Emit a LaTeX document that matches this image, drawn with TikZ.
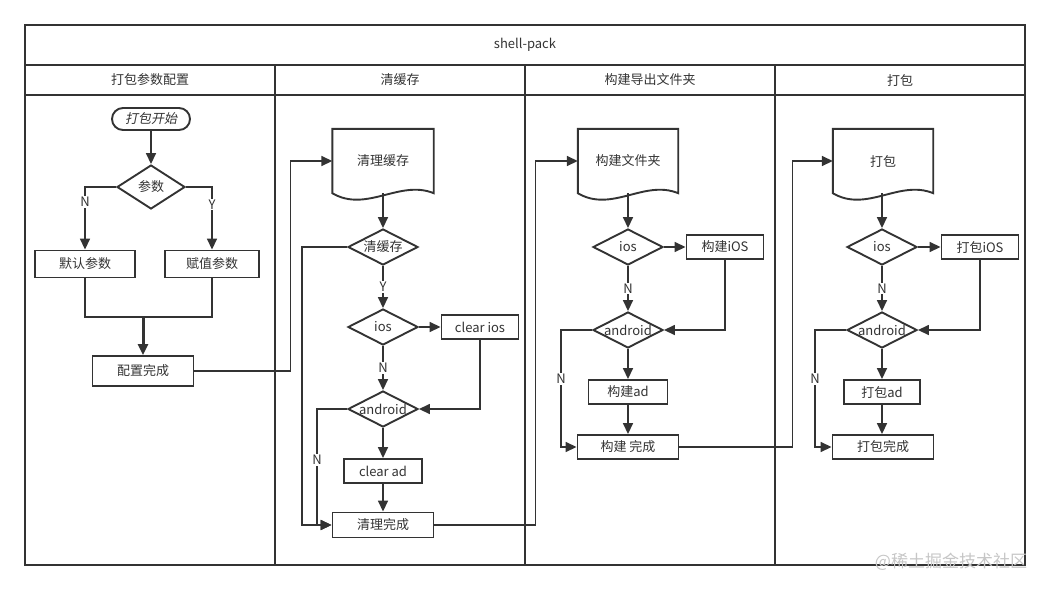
\documentclass[tikz,border=0pt]{standalone}
\usepackage{fontspec}
\setmainfont{Noto Sans CJK SC}
\newfontfamily\cjkslant[FakeSlant=0.2]{Noto Sans CJK SC}
\usetikzlibrary{shapes.geometric}
\usetikzlibrary{shapes.misc}
\usetikzlibrary{arrows.meta}
\usetikzlibrary{positioning}

\definecolor{ink}{HTML}{333333}

\tikzset{
	lane/.style={draw=ink, line width=1.7pt},
	proc/.style={draw=ink, line width=1.9pt, fill=white, minimum height=24pt, inner sep=2pt},
	dec/.style={diamond, draw=ink, line width=1.9pt, fill=white, aspect=2, inner sep=0pt, minimum width=70pt, minimum height=36pt},
	term/.style={rounded rectangle, draw=ink, line width=1.9pt, minimum width=82pt, minimum height=22pt, inner sep=2pt},
	docu/.style={minimum width=101pt, minimum height=64pt, inner sep=0pt},
	flow/.style={draw=ink, line width=1.6pt, -{Triangle[length=11pt,width=10pt]}},
	tag/.style={fill=white, inner sep=1pt, text=ink},
}

% document shape with wavy bottom
\newcommand\drawdoc[1]{%
	\draw[ink, line width=1.9pt] (#1.south west) -- (#1.north west) -- (#1.north east) -- (#1.south east)
		.. controls +(-34,-14) and +(34,20) .. (#1.south west) -- cycle;}

\begin{document}
\begin{tikzpicture}[x=1pt, y=-1pt, font=\fontsize{13}{15}\selectfont, text=ink]
	\useasboundingbox (0,0) rectangle (1050,590);

	% swimlanes
	\draw[lane] (25,25) rectangle (1025,565);
	\draw[lane] (25,65) -- (1025,65);
	\draw[lane] (25,95) -- (1025,95);
	\foreach \x in {275,525,775}
		\draw[lane] (\x,65) -- (\x,565);

	\node (title) at (525,45) {shell-pack};
	\node (hcfg) at (150,80) {打包参数配置};
	\node (hclr) at (400,80) {清缓存};
	\node (hbld) at (650,80) {构建导出文件夹};
	\node (hpck) at (900,80) {打包};

	% lane 1
	\node[term] (start) at (151,119) {\cjkslant 打包开始};
	\node[dec, minimum width=68pt, minimum height=44pt] (par) at (151,187) {参数};
	\node[proc, minimum width=100pt, minimum height=27pt] (dflt) at (85,264) {默认参数};
	\node[proc, minimum width=94pt, minimum height=27pt] (asgn) at (212,264) {赋值参数};
	\coordinate (mrg) at (143,317);
	\node[proc, minimum width=101pt, minimum height=30pt] (cfgok) at (143,371) {配置完成};

	\draw[flow] (start) -- (par);
	\draw[flow] (par.west) -| node[tag, pos=0.62] {N} (dflt);
	\draw[flow] (par.east) -| node[tag, pos=0.64] {Y} (asgn);
	\draw[ink, line width=1.6pt] (dflt.south) |- (mrg) -| (asgn.south);
	\draw[flow, line width=3pt] (mrg) -- (cfgok);

	% lane 2
	\node[docu] (doc1) at (383,161) {清理缓存};
	\drawdoc{doc1}
	\node[dec] (clr) at (383,247) {清缓存};
	\node[dec] (ios1) at (383,327) {ios};
	\node[proc, minimum width=77pt] (cios) at (480,327) {clear ios};
	\node[dec] (and1) at (383,409) {android};
	\node[proc, minimum width=78pt] (cad) at (383,471) {clear ad};
	\node[proc, minimum width=101pt, minimum height=25pt] (done1) at (383,525) {清理完成};

	\draw[flow] (doc1) -- (clr);
	\draw[flow] (clr.west) -- ++(-45,0) |- (done1.west);
	\draw[flow] (clr) -- node[tag] {Y} (ios1);
	\draw[flow] (ios1) -- (cios);
	\draw[flow] (cios.south) |- (and1.east);
	\draw[flow] (ios1) -- node[tag] {N} (and1);
	\draw[flow] (and1.west) -- ++(-30,0) |- node[tag, pos=0.22] {N} (done1.west);
	\draw[flow] (and1) -- (cad);
	\draw[flow] (cad) -- (done1);

	% lane 3
	\node[docu, minimum width=100pt] (doc2) at (628,161) {构建文件夹};
	\drawdoc{doc2}
	\node[dec] (ios2) at (628,247) {ios};
	\node[proc, minimum width=77pt] (bios) at (725,247) {构建iOS};
	\node[dec] (and2) at (628,330) {android};
	\node[proc, minimum width=79pt] (bad) at (628,392) {构建ad};
	\node[proc, minimum width=101pt] (done2) at (628,447) {构建 完成};

	\draw[flow] (doc2) -- (ios2);
	\draw[flow] (ios2) -- (bios);
	\draw[flow] (bios.south) |- (and2.east);
	\draw[flow] (ios2) -- node[tag] {N} (and2);
	\draw[flow] (and2.west) -- ++(-31,0) |- node[tag, pos=0.21] {N} (done2.west);
	\draw[flow] (and2) -- (bad);
	\draw[flow] (bad) -- (done2);

	% lane 4
	\node[docu, minimum width=100pt] (doc3) at (883,161) {打包};
	\drawdoc{doc3}
	\node[dec] (ios3) at (882,247) {ios};
	\node[proc, minimum width=77pt] (pios) at (980,247) {打包iOS};
	\node[dec] (and3) at (882,330) {android};
	\node[proc, minimum width=76pt] (pad) at (882,392) {打包ad};
	\node[proc, minimum width=101pt] (done3) at (883,447) {打包完成};

	\draw[flow] (doc3.south -| ios3) -- (ios3);
	\draw[flow] (ios3) -- (pios);
	\draw[flow] (pios.south) |- (and3.east);
	\draw[flow] (ios3) -- node[tag] {N} (and3);
	\draw[flow] (and3.west) -- ++(-31,0) |- node[tag, pos=0.21] {N} (done3.west);
	\draw[flow] (and3) -- (pad);
	\draw[flow] (pad) -- (done3.north -| pad);

	% across lanes
	\draw[flow] (cfgok.east) -- ++(96,0) |- (doc1.west);
	\draw[flow] (done1.east) -- ++(101,0) |- (doc2.west);
	\draw[flow] (done2.east) -- ++(113,0) |- (doc3.west);

	\node[text=gray!45, font=\fontsize{17}{20}\selectfont] (wm) at (951,562) {@稀土掘金技术社区};
\end{tikzpicture}
\end{document}
